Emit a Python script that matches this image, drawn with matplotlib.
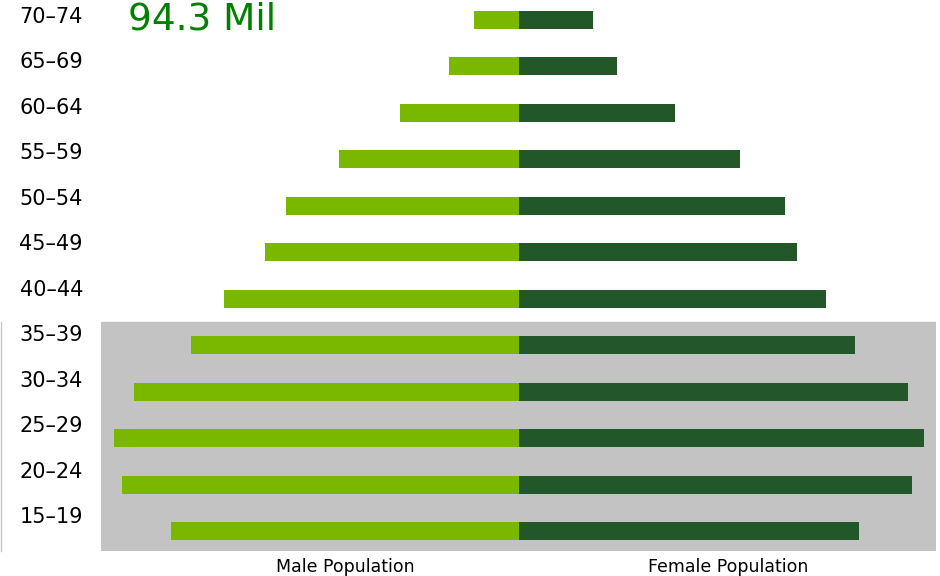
import numpy as np
import matplotlib.pyplot as plt
from matplotlib.lines import Line2D

# age groups, bottom to top
ages = ["15–19", "20–24", "25–29", "30–34", "35–39", "40–44",
        "45–49", "50–54", "55–59", "60–64", "65–69", "70–74"]
# population in millions
male = [3.47, 3.96, 4.04, 3.84, 3.27, 2.94, 2.53, 2.32, 1.79, 1.18, 0.69, 0.44]
female = [3.40, 3.93, 4.05, 3.89, 3.36, 3.07, 2.78, 2.66, 2.21, 1.56, 0.98, 0.74]
total_label = "94.3 Mil"

male_color = "#7ab800"
female_color = "#215729"
shade = "#c3c3c3"

fig = plt.figure(figsize=(9.4, 5.76), dpi=100)
ax = fig.add_axes([101/940, 25/576, 835/940, 551/576])

y = np.arange(len(ages))
ax.axhspan(-0.43, 4.5, color=shade, zorder=0)
ax.barh(y, [-m for m in male], height=0.39, color=male_color, zorder=2)
ax.barh(y, female, height=0.39, color=female_color, zorder=2)

ax.set_xlim(-4.17, 4.17)
ax.set_ylim(-0.43, 11.43)

# age labels sit a bit above their bars
ax.set_yticks(0.343 + y * 0.979)
ax.set_yticklabels(ages, fontsize=15)
ax.set_xticks([-1.725, 2.095])
ax.set_xticklabels(["Male Population", "Female Population"], fontsize=12.5)
ax.tick_params(length=0)
ax.tick_params(axis="y", pad=13)
ax.tick_params(axis="x", pad=5)
for s in ax.spines.values():
    s.set_visible(False)

fig.text(128/940, 1 - 20/576, total_label, color="#008000", fontsize=27,
         ha="left", va="center")
fig.add_artist(Line2D([1/940, 1/940], [25/576, 254/576], color="#c8c8c8", lw=1))

fig.savefig("out.png", dpi=100)
